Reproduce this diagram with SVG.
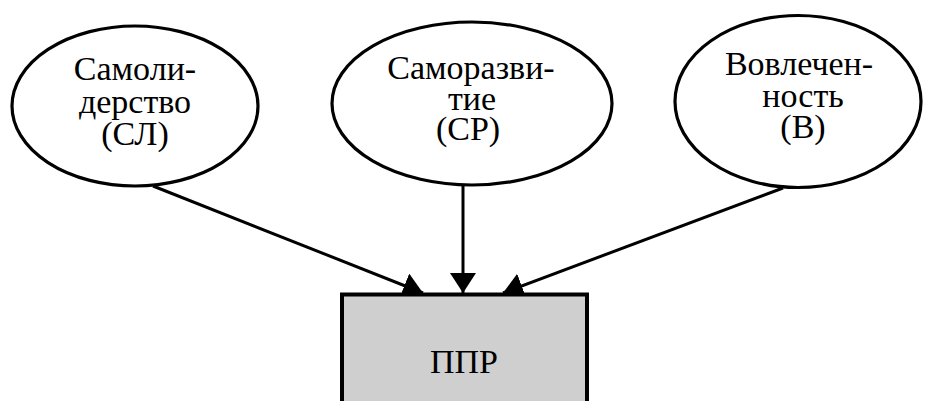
<svg xmlns="http://www.w3.org/2000/svg" width="925" height="401" viewBox="0 0 925 401">
  <style>
    .node ellipse { fill: #ffffff; stroke: #000000; stroke-width: 3.2; }
    .node rect { fill: #d0cfd0; stroke: #000000; stroke-width: 4; }
    text { font-family: Liberation Serif, serif; font-size: 34px; fill: #000000; text-anchor: middle; }
    #connectors line { stroke: #000000; stroke-width: 3; marker-end: url(#arrow); }
  </style>
  <defs>
    <marker id="arrow" markerUnits="userSpaceOnUse" markerWidth="20" markerHeight="26" viewBox="0 0 20 26" refX="20" refY="13" orient="auto">
      <path d="M0,0 L20,13 L0,26 z" fill="#000000"/>
    </marker>
  </defs>
  <rect width="925" height="401" fill="#ffffff"/>

  <g id="connectors">
    <line x1="153" y1="186" x2="423" y2="293"/>
    <line x1="463" y1="185" x2="463" y2="293"/>
    <line x1="783" y1="188" x2="503" y2="293"/>
  </g>

  <g id="node-sl" class="node">
    <ellipse cx="135" cy="106" rx="123" ry="80"/>
    <text x="135" y="80">Самоли-</text>
    <text x="135" y="112.5">дерство</text>
    <text x="135" y="145">(СЛ)</text>
  </g>

  <g id="node-sr" class="node">
    <ellipse cx="472" cy="103.5" rx="140" ry="81.5"/>
    <text x="471" y="79">Саморазви-</text>
    <text x="472" y="109.5">тие</text>
    <text x="468" y="140">(СР)</text>
  </g>

  <g id="node-v" class="node">
    <ellipse cx="798" cy="101.5" rx="123" ry="86"/>
    <text x="799" y="75">Вовлечен-</text>
    <text x="803" y="106.5">ность</text>
    <text x="803" y="138">(В)</text>
  </g>

  <g id="node-ppr" class="node">
    <rect x="342" y="294.5" width="245" height="120"/>
    <text x="464" y="373">ППР</text>
  </g>
</svg>
